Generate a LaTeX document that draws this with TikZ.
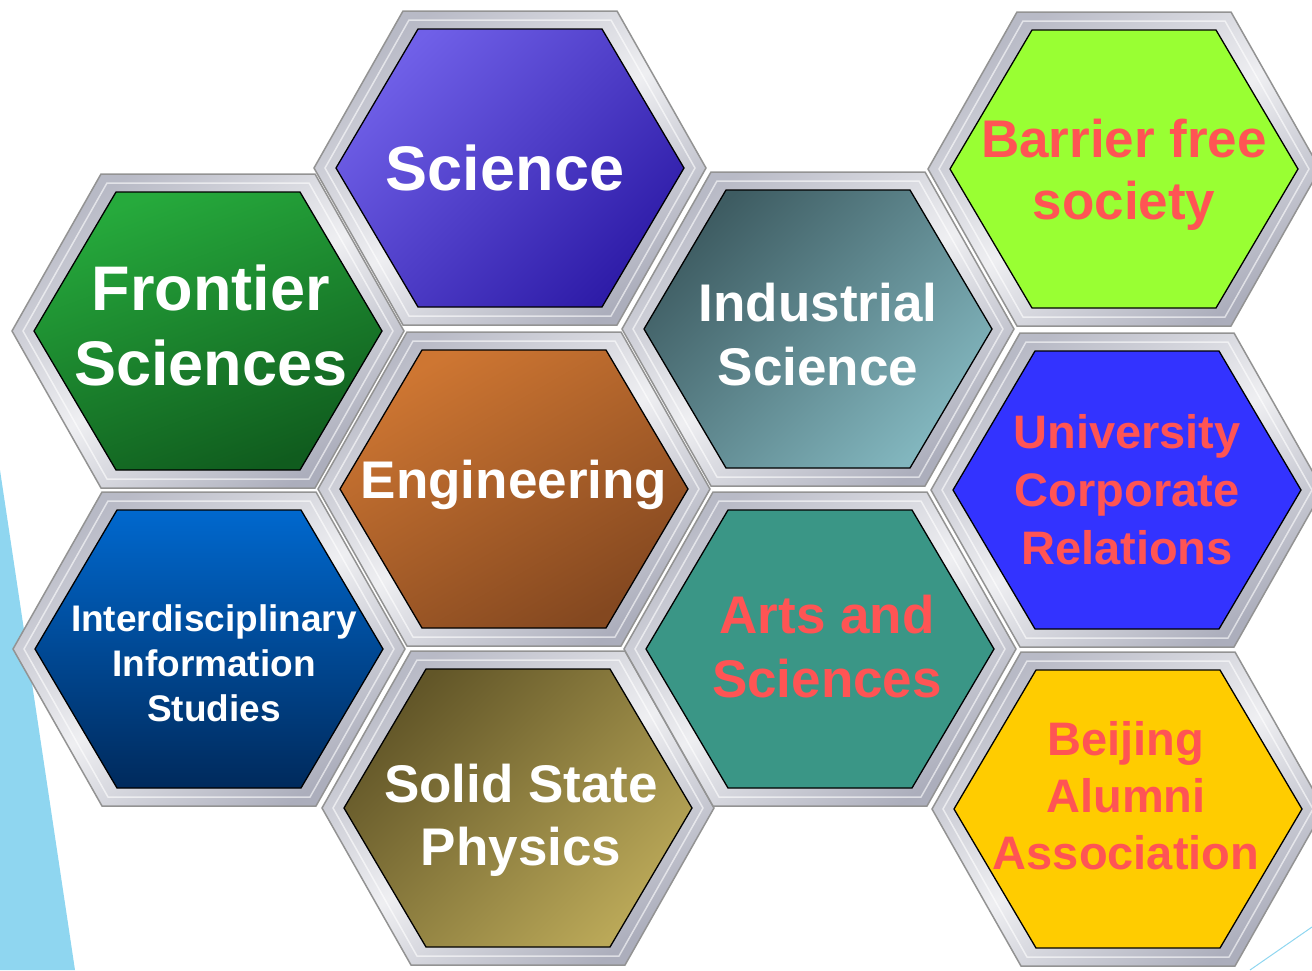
\documentclass[tikz,border=0pt]{standalone}
\usepackage{fontspec}
\setmainfont{Liberation Sans}
\usetikzlibrary{calc}
\definecolor{sciTop}{RGB}{112,96,232}
\definecolor{sciBot}{RGB}{46,28,168}
\definecolor{froTop}{RGB}{38,170,60}
\definecolor{froBot}{RGB}{16,92,30}
\definecolor{engTop}{RGB}{206,118,50}
\definecolor{engBot}{RGB}{132,72,32}
\definecolor{indTop}{RGB}{62,92,98}
\definecolor{indBot}{RGB}{130,182,190}
\definecolor{barFill}{RGB}{153,255,51}
\definecolor{uniFill}{RGB}{51,51,255}
\definecolor{intTop}{RGB}{0,104,206}
\definecolor{intBot}{RGB}{0,42,92}
\definecolor{artFill}{RGB}{58,150,134}
\definecolor{solTop}{RGB}{98,86,40}
\definecolor{solBot}{RGB}{186,168,88}
\definecolor{beiFill}{RGB}{255,204,0}
\definecolor{coral}{RGB}{255,84,84}
\definecolor{skyblue}{RGB}{143,214,240}
\definecolor{metal}{RGB}{172,174,188}
\tikzstyle{frame} = [top color=metal!85, bottom color=metal, middle color=white!80!metal, shading angle=35, draw=gray!85, line width=1.5pt]
\tikzstyle{bevel} = [draw=white, line width=1.5pt, opacity=0.6]
\tikzstyle{cell} = [draw=black, line width=1.3pt]
\tikzstyle{white text} = [text=white, align=center, font=\bfseries]
\tikzstyle{coral text} = [text=coral, align=center, font=\bfseries]
% one hexagon with metal frame: name, x, y, fill, text style, text
\newcommand{\honeycell}[6]{%
  \path[frame] (#2,#3) ++(-196,0) -- ++(89,-157) -- ++(214,0) -- ++(89,157) -- ++(-89,157) -- ++(-214,0) -- cycle;
  \path[bevel] (#2,#3) ++(-185,0) -- ++(84,-148) -- ++(202,0) -- ++(84,148) -- ++(-84,148) -- ++(-202,0) -- cycle;
  \path[cell, #4] (#2,#3) ++(-174,0) -- ++(82,-139) -- ++(184,0) -- ++(82,139) -- ++(-82,139) -- ++(-184,0) -- cycle;
  \node (#1) at (#2,#3) [#5] {#6};
}

\begin{document}
\begin{tikzpicture}[x=1pt, y=-1pt]
\useasboundingbox (0,0) rectangle (1312,970);

% background strokes
\fill[skyblue] (0,470) -- (75,970) -- (0,970) -- cycle;
\draw[skyblue, line width=1pt] (1250,970) -- (1312,927);

% first column
\honeycell{frontier}{208}{331}{top color=froTop, bottom color=froBot, shading angle=20}{white text, font=\fontsize{63}{75}\selectfont\bfseries, xshift=3pt, yshift=6pt}{Frontier\\Sciences}
\honeycell{interdisc}{209}{649}{top color=intTop, bottom color=intBot}{white text, font=\fontsize{37}{45}\selectfont\bfseries, xshift=5pt, yshift=-14pt}{Interdisciplinary\\Information\\Studies}

% second column
\honeycell{science}{510}{168}{top color=sciTop, bottom color=sciBot, shading angle=45}{white text, font=\fontsize{63}{75}\selectfont\bfseries, xshift=-5pt}{Science}
\honeycell{engineering}{514}{489}{top color=engTop, bottom color=engBot, shading angle=30}{white text, font=\fontsize{53}{64}\selectfont\bfseries, yshift=4pt}{Engineering}
\honeycell{solid}{518}{808}{top color=solTop, bottom color=solBot, shading angle=45}{white text, font=\fontsize{53}{63}\selectfont\bfseries, xshift=3pt, yshift=-12pt}{Solid State\\Physics}

% third column
\honeycell{industrial}{818}{329}{top color=indTop, bottom color=indBot, shading angle=45}{white text, font=\fontsize{53}{64}\selectfont\bfseries, yshift=-6pt}{Industrial\\Science}
\honeycell{arts}{820}{649}{fill=artFill}{coral text, font=\fontsize{53}{64}\selectfont\bfseries, xshift=7pt, yshift=2pt}{Arts and\\Sciences}

% fourth column
\honeycell{barrier}{1124}{169}{fill=barFill}{coral text, font=\fontsize{53}{62}\selectfont\bfseries, yshift=-6pt}{Barrier free\\society}
\honeycell{university}{1127}{490}{fill=uniFill}{coral text, font=\fontsize{47}{58}\selectfont\bfseries}{University\\Corporate\\Relations}
\honeycell{beijing}{1128}{809}{fill=beiFill}{coral text, font=\fontsize{47}{57}\selectfont\bfseries, xshift=-2pt, yshift=13pt}{Beijing\\Alumni\\Association}

\end{tikzpicture}
\end{document}
